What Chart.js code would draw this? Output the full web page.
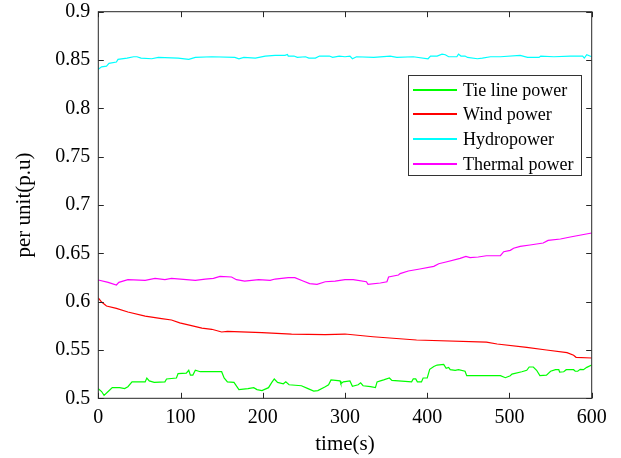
<!DOCTYPE html>
<html>
<head>
<meta charset="utf-8">
<script src="https://cdn.jsdelivr.net/npm/chart.js@4/dist/chart.umd.min.js"></script>
<style>
  html, body { margin: 0; padding: 0; background: #fff; }
  #wrap { width: 621px; height: 458px; }
</style>
</head>
<body>
<div id="wrap"><canvas id="powerChart" width="621" height="458"></canvas></div>
<script>
// series labels (legend order)
const seriesNames = ['Tie line power', 'Wind power', 'Hydropower', 'Thermal power'];
const seriesColors = ['#00ff00', '#ff0000', '#00ffff', '#ff00ff'];

// tie line power, time (s) and p.u.
const tieTime = [0, 4, 7, 12, 17, 26, 32, 36, 41, 57, 59, 62, 68, 81, 83, 95, 97, 107, 110, 112, 115, 118, 124, 150, 153, 157, 165, 171, 182, 189, 193, 199, 207, 211, 214, 218, 225, 228, 232, 247, 255, 262, 267, 276, 280, 283, 294, 295, 298, 306, 309, 316, 319, 322, 331, 337, 339, 343, 347, 354, 357, 381, 383, 386, 388, 393, 395, 400, 403, 408, 412, 420, 423, 426, 428, 434, 438, 446, 448, 489, 495, 501, 503, 515, 521, 524, 529, 533, 537, 545, 550, 556, 560, 561, 566, 569, 578, 580, 583, 586, 590, 594, 600];
const tiePower = [0.510, 0.507, 0.503, 0.507, 0.511, 0.511, 0.510, 0.512, 0.517, 0.517, 0.521, 0.518, 0.5165, 0.517, 0.520, 0.521, 0.5255, 0.526, 0.529, 0.524, 0.524, 0.529, 0.5275, 0.5275, 0.521, 0.517, 0.5165, 0.509, 0.510, 0.511, 0.509, 0.508, 0.511, 0.5165, 0.520, 0.5165, 0.515, 0.517, 0.514, 0.513, 0.510, 0.5075, 0.508, 0.512, 0.514, 0.519, 0.518, 0.515, 0.517, 0.518, 0.5124, 0.514, 0.516, 0.513, 0.512, 0.511, 0.517, 0.518, 0.519, 0.521, 0.5185, 0.517, 0.520, 0.520, 0.517, 0.517, 0.521, 0.521, 0.530, 0.533, 0.5344, 0.535, 0.531, 0.532, 0.5296, 0.529, 0.5296, 0.528, 0.5234, 0.5234, 0.5213, 0.5234, 0.525, 0.5275, 0.529, 0.5324, 0.5324, 0.529, 0.5234, 0.524, 0.528, 0.5296, 0.5296, 0.527, 0.5275, 0.5296, 0.5296, 0.528, 0.528, 0.530, 0.5296, 0.532, 0.5344];

// wind power
const windTime = [0, 4, 10, 22, 36, 57, 77, 89, 99, 112, 126, 138, 150, 157, 199, 235, 276, 300, 334, 387, 472, 485, 521, 545, 570, 578, 581, 600];
const windPower = [0.6038, 0.5996, 0.5955, 0.593, 0.5893, 0.5851, 0.5824, 0.581, 0.578, 0.5755, 0.5727, 0.5714, 0.5686, 0.5693, 0.5679, 0.5665, 0.5658, 0.5665, 0.5637, 0.5603, 0.5582, 0.5562, 0.5527, 0.55, 0.5472, 0.5445, 0.5424, 0.5417];

// hydropower
const hydroTime = [0, 4, 10, 13, 22, 24, 35, 43, 47, 52, 65, 73, 97, 110, 118, 138, 166, 171, 177, 191, 203, 215, 227, 230, 231, 238, 242, 252, 256, 264, 269, 281, 285, 293, 300, 306, 309, 314, 335, 355, 363, 383, 401, 404, 412, 418, 422, 426, 436, 438, 441, 446, 449, 461, 467, 477, 489, 513, 522, 536, 538, 554, 574, 589, 591, 594, 600];
const hydroPower = [0.8403, 0.843, 0.8437, 0.8465, 0.8479, 0.8507, 0.852, 0.8534, 0.8534, 0.852, 0.8513, 0.8527, 0.852, 0.8507, 0.8527, 0.8534, 0.8527, 0.8513, 0.8527, 0.852, 0.8541, 0.8548, 0.8548, 0.8558, 0.8541, 0.8541, 0.8527, 0.8534, 0.852, 0.852, 0.8541, 0.8541, 0.8527, 0.8541, 0.8534, 0.8541, 0.8513, 0.8534, 0.8527, 0.8541, 0.8527, 0.8534, 0.8513, 0.8541, 0.8541, 0.8561, 0.8555, 0.8534, 0.8534, 0.8561, 0.8541, 0.8541, 0.8527, 0.8513, 0.852, 0.8534, 0.8534, 0.8548, 0.8527, 0.8527, 0.8541, 0.8534, 0.8541, 0.8541, 0.852, 0.8555, 0.8534];

// thermal power
const thermalTime = [0, 12, 22, 25, 36, 57, 69, 81, 89, 118, 130, 140, 148, 162, 168, 178, 195, 209, 215, 231, 239, 249, 257, 266, 276, 288, 300, 310, 326, 328, 343, 351, 353, 365, 367, 377, 391, 408, 414, 424, 440, 447, 452, 462, 472, 489, 493, 501, 505, 513, 525, 541, 547, 562, 574, 582, 600];
const thermalPower = [0.6224, 0.620, 0.6172, 0.620, 0.6227, 0.622, 0.6241, 0.6227, 0.6241, 0.622, 0.6234, 0.6241, 0.6262, 0.6255, 0.6227, 0.6213, 0.6227, 0.622, 0.6234, 0.6248, 0.6248, 0.6213, 0.6186, 0.6179, 0.6206, 0.6213, 0.6227, 0.6227, 0.6206, 0.6179, 0.6193, 0.6206, 0.6255, 0.6276, 0.629, 0.6317, 0.6338, 0.6365, 0.6392, 0.6413, 0.6448, 0.6469, 0.6455, 0.6462, 0.6475, 0.6475, 0.6517, 0.6531, 0.6552, 0.6572, 0.6586, 0.6607, 0.6634, 0.6648, 0.6669, 0.6682, 0.671];

// axis ticks
const xTicks = [0, 100, 200, 300, 400, 500, 600];
const yTicks = [0.5, 0.55, 0.6, 0.65, 0.7, 0.75, 0.8, 0.85, 0.9];

const serifFont = "'Liberation Serif', 'Times New Roman', serif";
Chart.defaults.font.family = serifFont;
Chart.defaults.color = '#000';

function toPoints(times, values) {
  return times.map((t, i) => ({ x: t, y: values[i] }));
}

function makeDataset(idx, times, values) {
  return {
    label: seriesNames[idx],
    data: toPoints(times, values),
    borderColor: seriesColors[idx],
    backgroundColor: seriesColors[idx],
    borderWidth: 1.2,
    pointRadius: 0,
    tension: 0,
    fill: false
  };
}

// box around the plot with inward ticks on all four sides
const boxPlugin = {
  id: 'boxPlugin',
  afterDatasetsDraw(chart) {
    const { ctx, chartArea: a, scales } = chart;
    const len = 5.5;
    ctx.save();
    ctx.strokeStyle = '#262626';
    ctx.lineWidth = 1;
    ctx.strokeRect(a.left, a.top, a.right - a.left, a.bottom - a.top);
    ctx.beginPath();
    xTicks.forEach(v => {
      const px = Math.round(scales.x.getPixelForValue(v)) + 0.5;
      ctx.moveTo(px, a.bottom); ctx.lineTo(px, a.bottom - len);
      ctx.moveTo(px, a.top); ctx.lineTo(px, a.top + len);
    });
    yTicks.forEach(v => {
      const py = Math.round(scales.y.getPixelForValue(v)) + 0.5;
      ctx.moveTo(a.left, py); ctx.lineTo(a.left + len, py);
      ctx.moveTo(a.right, py); ctx.lineTo(a.right - len, py);
    });
    ctx.stroke();
    ctx.restore();
  }
};

// legend box in the upper right of the plot
const legendPlugin = {
  id: 'legendBox',
  afterDraw(chart) {
    const { ctx } = chart;
    const x0 = 408, y0 = 75, w = 173, h = 100;
    ctx.save();
    ctx.fillStyle = '#fff';
    ctx.fillRect(x0, y0, w, h);
    ctx.strokeStyle = '#333';
    ctx.lineWidth = 1;
    ctx.strokeRect(x0 + 0.5, y0 + 0.5, w, h);
    ctx.font = '18px ' + serifFont;
    ctx.textBaseline = 'middle';
    chart.data.datasets.forEach((ds, i) => {
      const y = Math.round(y0 + 14.5 + i * 24.7);
      ctx.strokeStyle = ds.borderColor;
      ctx.lineWidth = 2;
      ctx.beginPath();
      ctx.moveTo(x0 + 5, y); ctx.lineTo(x0 + 49, y);
      ctx.stroke();
      ctx.fillStyle = '#000';
      ctx.fillText(ds.label, x0 + 55, y + 1);
    });
    ctx.restore();
  }
};

const tickFont = { family: serifFont, size: 20 };
const titleFont = { family: serifFont, size: 21 };

const ctx = document.getElementById('powerChart').getContext('2d');
const powerChart = new Chart(ctx, {
  type: 'line',
  data: {
    datasets: [
      makeDataset(0, tieTime, tiePower),
      makeDataset(1, windTime, windPower),
      makeDataset(2, hydroTime, hydroPower),
      makeDataset(3, thermalTime, thermalPower)
    ]
  },
  options: {
    responsive: false,
    animation: false,
    layout: { padding: { top: 11.7, right: 29.3, left: 0, bottom: 0 } },
    plugins: {
      legend: { display: false },
      tooltip: { enabled: false }
    },
    scales: {
      x: {
        type: 'linear',
        min: 0,
        max: 600,
        afterBuildTicks: scale => { scale.ticks = xTicks.map(v => ({ value: v })); },
        afterFit: scale => {
          scale.height = 59.7;
          scale.paddingLeft = 0;
          scale.paddingRight = 0;
        },
        grid: { display: false, drawTicks: false },
        border: { display: false },
        ticks: { font: tickFont, padding: 7, maxRotation: 0 },
        title: { display: true, text: 'time(s)', font: titleFont, padding: { top: 0, bottom: 1 } }
      },
      y: {
        type: 'linear',
        min: 0.5,
        max: 0.9,
        afterBuildTicks: scale => { scale.ticks = yTicks.map(v => ({ value: v })); },
        afterFit: scale => {
          scale.width = 98.3;
          scale.paddingTop = 0;
          scale.paddingBottom = 0;
        },
        grid: { display: false, drawTicks: false },
        border: { display: false },
        ticks: {
          font: tickFont,
          padding: 8,
          callback: v => String(Number(v.toFixed(2)))
        },
        title: { display: true, text: 'per unit(p.u)', font: titleFont, padding: { top: 12, bottom: 0 } }
      }
    }
  },
  plugins: [boxPlugin, legendPlugin]
});
</script>
</body>
</html>
